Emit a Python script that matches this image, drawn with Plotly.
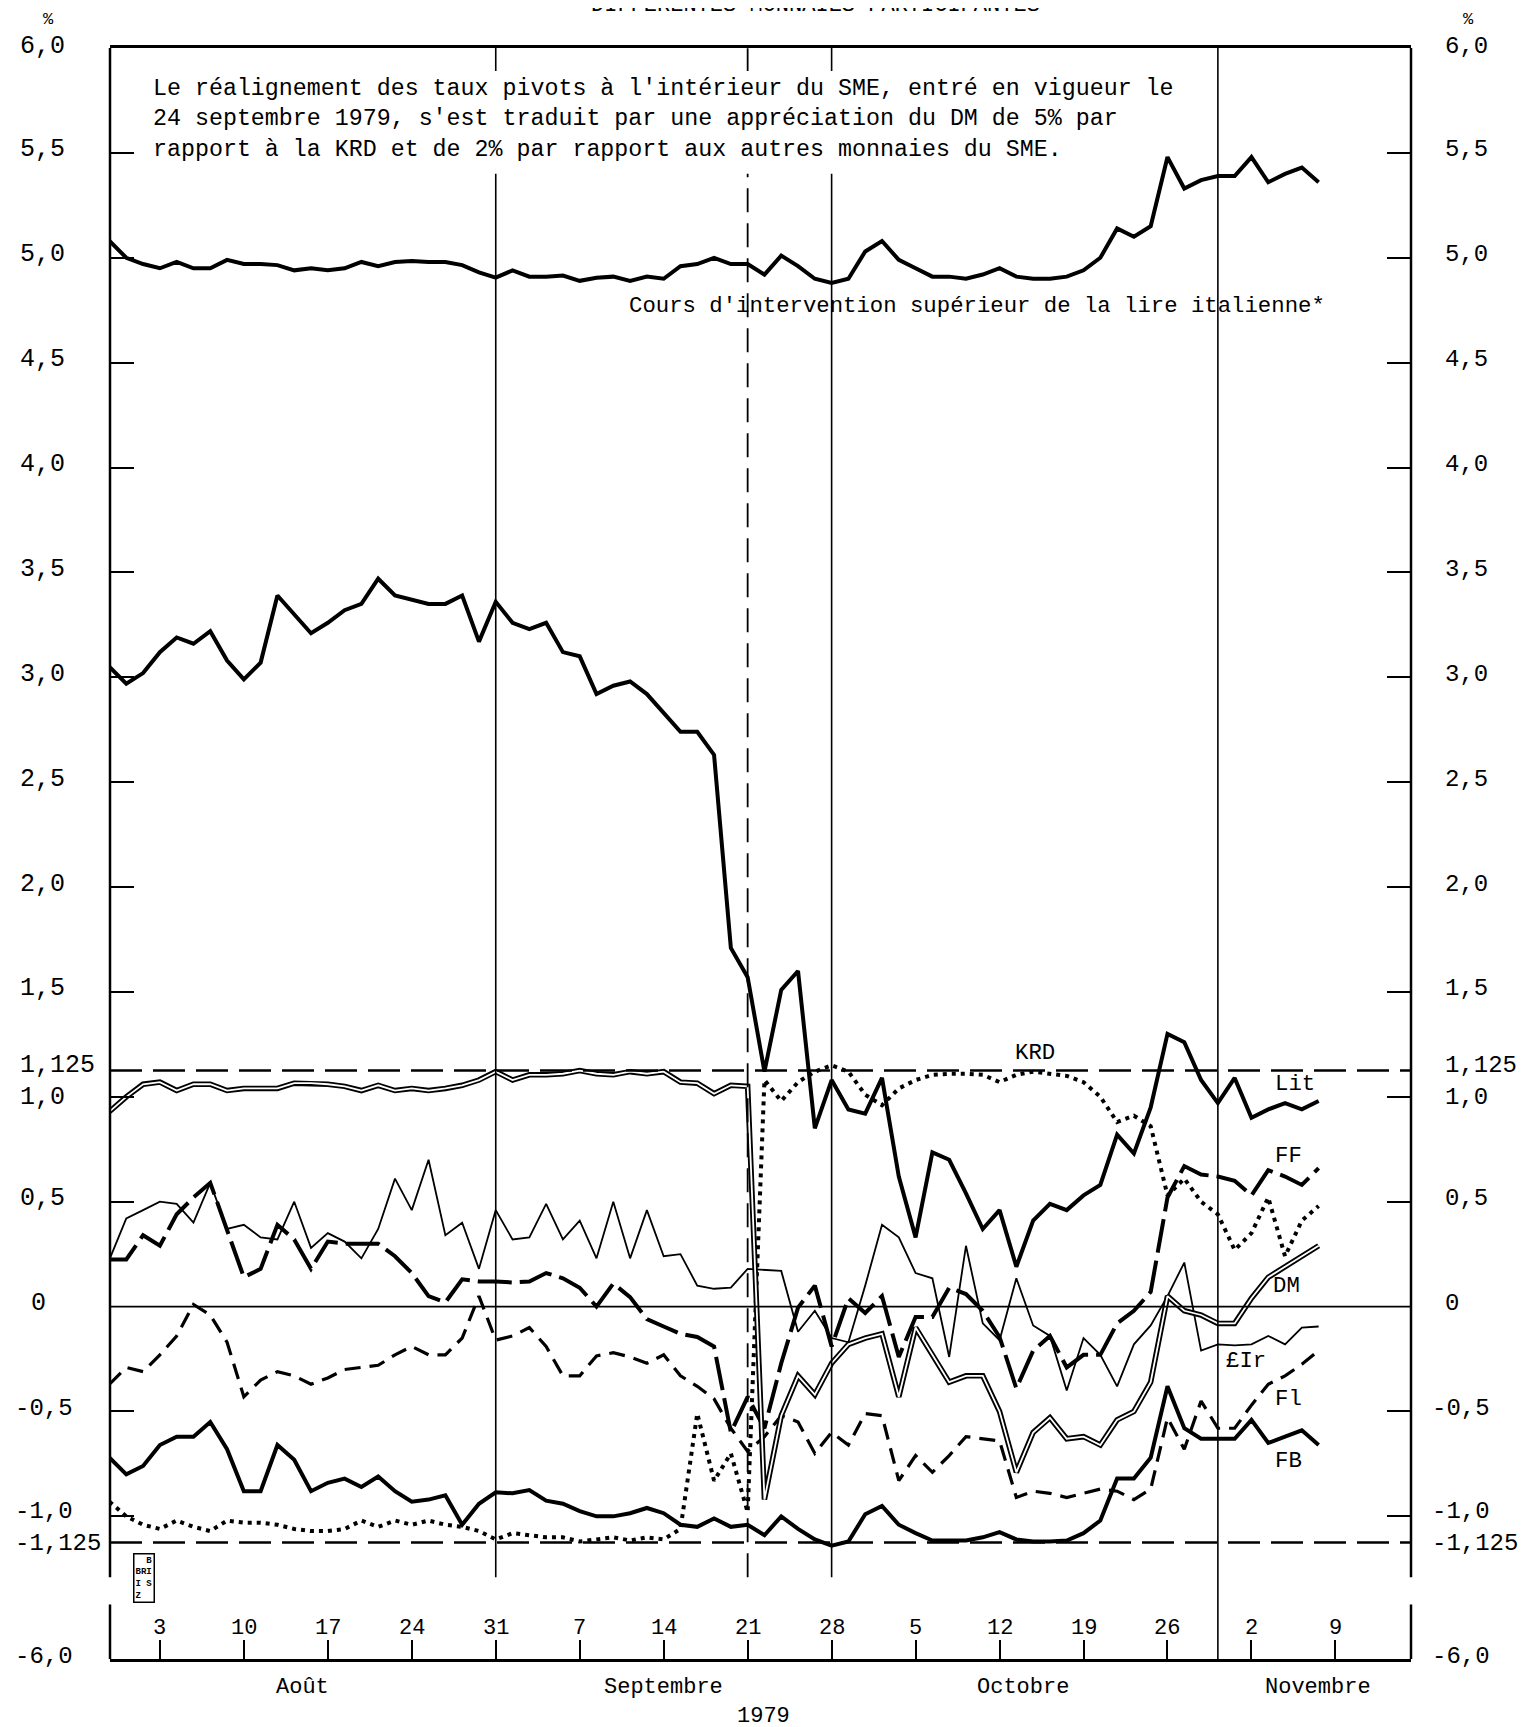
import pandas as pd
import plotly.graph_objects as go

# ---------------- data ----------------
dates = pd.bdate_range("1979-07-31", "1979-11-08")          # business days plotted
tick_days = pd.bdate_range("1979-07-31", "1979-11-09")
pos = {d: i for i, d in enumerate(tick_days)}
x = [pos[d] for d in dates]

cours = [5.08, 5.00, 4.97, 4.95, 4.98, 4.95, 4.95, 4.99, 4.97, 4.97,
         4.965, 4.94, 4.95, 4.94, 4.95, 4.98, 4.96, 4.98, 4.985, 4.98,
         4.98, 4.965, 4.93, 4.905, 4.94, 4.91, 4.91, 4.915, 4.89, 4.905,
         4.91, 4.89, 4.91, 4.90, 4.96, 4.97, 5.00, 4.97, 4.97, 4.92,
         5.01, 4.96, 4.90, 4.88, 4.90, 5.03, 5.08, 4.99, 4.95, 4.91,
         4.91, 4.90, 4.92, 4.95, 4.91, 4.90, 4.90, 4.91, 4.94, 5.00,
         5.14, 5.10, 5.15, 5.48, 5.33, 5.37, 5.39, 5.39, 5.48, 5.36,
         5.40, 5.43, 5.36]

lit = [3.05, 2.97, 3.02, 3.12, 3.19, 3.16, 3.22, 3.08, 2.99, 3.07,
       3.39, 3.30, 3.21, 3.26, 3.32, 3.35, 3.47, 3.39, 3.37, 3.35,
       3.35, 3.39, 3.17, 3.36, 3.26, 3.23, 3.26, 3.12, 3.10, 2.92,
       2.96, 2.98, 2.92, 2.83, 2.74, 2.74, 2.63, 1.71, 1.57, 1.12,
       1.51, 1.60, 0.85, 1.08, 0.94, 0.92, 1.09, 0.62, 0.33, 0.735,
       0.70, 0.54, 0.37, 0.46, 0.19, 0.41, 0.49, 0.46, 0.53, 0.58,
       0.82, 0.73, 0.95, 1.30, 1.26, 1.08, 0.97, 1.09, 0.90, 0.94,
       0.97, 0.94, 0.98]

ff = [0.225, 0.225, 0.34, 0.29, 0.44, 0.52, 0.59, 0.36, 0.14, 0.18,
      0.39, 0.32, 0.18, 0.31, 0.30, 0.30, 0.30, 0.24, 0.16, 0.05,
      0.02, 0.13, 0.12, 0.12, 0.115, 0.12, 0.16, 0.135, 0.09, 0.0,
      0.11, 0.045, -0.06, -0.095, -0.13, -0.145, -0.19, -0.60, -0.43, -0.58,
      -0.27, -0.005, 0.10, -0.19, 0.04, -0.03, 0.05, -0.24, -0.05, -0.05,
      0.09, 0.06, -0.02, -0.145, -0.39, -0.21, -0.14, -0.29, -0.23, -0.23,
      -0.08, -0.02, 0.07, 0.52, 0.67, 0.63, 0.62, 0.60, 0.53, 0.65,
      0.62, 0.58, 0.66]

eir = [0.225, 0.42, 0.46, 0.50, 0.49, 0.40, 0.59, 0.37, 0.39, 0.33,
       0.32, 0.50, 0.28, 0.35, 0.31, 0.23, 0.37, 0.61, 0.46, 0.70,
       0.34, 0.40, 0.18, 0.46, 0.32, 0.33, 0.49, 0.32, 0.41, 0.23,
       0.50, 0.23, 0.46, 0.24, 0.25, 0.10, 0.085, 0.09, 0.18, 0.176,
       0.17, -0.12, -0.02, -0.15, -0.17, 0.10, 0.39, 0.33, 0.16, 0.135,
       -0.24, 0.29, -0.08, -0.16, 0.135, -0.09, -0.14, -0.40, -0.15, -0.23,
       -0.38, -0.18, -0.09, 0.05, 0.21, -0.21, -0.18, -0.185, -0.18, -0.14,
       -0.18, -0.10, -0.095]

dm = [0.93, 1.00, 1.06, 1.07, 1.03, 1.06, 1.06, 1.03, 1.04, 1.04,
      1.04, 1.065, 1.065, 1.06, 1.05, 1.03, 1.055, 1.03, 1.04, 1.03,
      1.04, 1.055, 1.08, 1.12, 1.08, 1.105, 1.105, 1.11, 1.125, 1.11,
      1.105, 1.12, 1.11, 1.12, 1.07, 1.065, 1.015, 1.055, 1.05, -0.92,
      -0.52, -0.33, -0.42, -0.27, -0.18, -0.15, -0.13, -0.43, -0.10, -0.23,
      -0.36, -0.33, -0.33, -0.50, -0.79, -0.60, -0.53, -0.63, -0.62, -0.66,
      -0.54, -0.50, -0.36, 0.05, -0.02, -0.04, -0.08, -0.08, 0.04, 0.14,
      0.19, 0.24, 0.29]

fl = [-0.37, -0.29, -0.31, -0.23, -0.14, 0.01, -0.04, -0.17, -0.43, -0.35,
      -0.31, -0.33, -0.37, -0.34, -0.30, -0.29, -0.28, -0.23, -0.19, -0.23,
      -0.23, -0.15, 0.05, -0.16, -0.14, -0.10, -0.19, -0.33, -0.33, -0.235,
      -0.22, -0.24, -0.27, -0.23, -0.33, -0.38, -0.44, -0.58, -0.69, -0.62,
      -0.52, -0.55, -0.70, -0.60, -0.66, -0.51, -0.52, -0.83, -0.71, -0.79,
      -0.71, -0.62, -0.63, -0.64, -0.91, -0.88, -0.89, -0.91, -0.89, -0.87,
      -0.88, -0.92, -0.87, -0.53, -0.68, -0.45, -0.58, -0.58, -0.47, -0.37,
      -0.33, -0.275, -0.21]

krd = [-0.93, -1.00, -1.04, -1.06, -1.02, -1.05, -1.07, -1.02, -1.03, -1.03,
       -1.04, -1.06, -1.07, -1.07, -1.06, -1.02, -1.05, -1.02, -1.04, -1.02,
       -1.04, -1.05, -1.07, -1.11, -1.08, -1.09, -1.10, -1.10, -1.12, -1.11,
       -1.10, -1.115, -1.10, -1.11, -1.06, -0.51, -0.83, -0.70, -0.98, 1.08,
       0.98, 1.07, 1.12, 1.15, 1.12, 1.01, 0.96, 1.04, 1.08, 1.105,
       1.11, 1.11, 1.105, 1.07, 1.105, 1.12, 1.11, 1.10, 1.07, 1.00,
       0.88, 0.91, 0.86, 0.53, 0.61, 0.50, 0.44, 0.27, 0.35, 0.52,
       0.24, 0.41, 0.48]

fb = [-0.72, -0.80, -0.76, -0.66, -0.62, -0.62, -0.55, -0.68, -0.88, -0.88,
      -0.66, -0.73, -0.88, -0.84, -0.82, -0.86, -0.81, -0.88, -0.93, -0.92,
      -0.90, -1.04, -0.94, -0.885, -0.89, -0.875, -0.925, -0.94, -0.975, -1.00,
      -1.00, -0.985, -0.96, -0.985, -1.04, -1.05, -1.01, -1.05, -1.04, -1.09,
      -1.00, -1.06, -1.11, -1.14, -1.12, -0.99, -0.95, -1.04, -1.08, -1.115,
      -1.115, -1.115, -1.10, -1.075, -1.11, -1.12, -1.12, -1.115, -1.08, -1.02,
      -0.82, -0.82, -0.72, -0.38, -0.58, -0.63, -0.63, -0.63, -0.54, -0.65,
      -0.62, -0.59, -0.66]

y_tick_vals = [6.0, 5.5, 5.0, 4.5, 4.0, 3.5, 3.0, 2.5, 2.0, 1.5, 1.125, 1.0,
               0.5, 0.0, -0.5, -1.0, -1.125, -1.68]
y_tick_text = ["6,0", "5,5", "5,0", "4,5", "4,0", "3,5", "3,0", "2,5", "2,0",
               "1,5", "1,125", "1,0", "0,5", "0", "-0,5", "-1,0", "-1,125", "-6,0"]
months = [("Août", 11.47), ("Septembre", 32.97), ("Octobre", 54.37), ("Novembre", 71.97)]
note = ("Le réalignement des taux pivots à l'intérieur du SME, entré en vigueur le<br>"
        "24 septembre 1979, s'est traduit par une appréciation du DM de 5% par<br>"
        "rapport à la KRD et de 2% par rapport aux autres monnaies du SME.")

FONT = "Liberation Mono, Courier New, monospace"
BLACK = "#000000"

fig = go.Figure()


def line(y, width, dash="solid", color=BLACK):
    fig.add_trace(go.Scatter(x=x, y=y, mode="lines", hoverinfo="skip",
                             showlegend=False,
                             line=dict(color=color, width=width, dash=dash)))


line(krd, 4, "4px,5px")
line(fl, 3.2, "16px,9px")
line(ff, 4, "34px,8px")
line(eir, 1.8)
line(fb, 4)
line(lit, 4)
line(cours, 4)
line(dm, 5.5)
line(dm, 1.8, color="white")
# dummy trace so that the right-hand axis is drawn
fig.add_trace(go.Scatter(x=[x[0]], y=[0], yaxis="y2", mode="markers",
                         marker=dict(opacity=0), hoverinfo="skip", showlegend=False))

shapes = []
for v in (1.125, -1.125):
    shapes.append(dict(type="line", xref="paper", x0=0, x1=1, yref="y", y0=v, y1=v,
                       line=dict(color=BLACK, width=2.5, dash="32px,11px")))
shapes.append(dict(type="line", xref="paper", x0=0, x1=1, yref="y", y0=0, y1=0,
                   line=dict(color=BLACK, width=1.8)))
for d in ("1979-08-31", "1979-09-28"):
    p = pos[pd.Timestamp(d)]
    shapes.append(dict(type="line", x0=p, x1=p, y0=-1.29, y1=6.0,
                       line=dict(color=BLACK, width=1.6)))
p = pos[pd.Timestamp("1979-10-31")]
shapes.append(dict(type="line", x0=p, x1=p, y0=-1.68, y1=6.0,
                   line=dict(color=BLACK, width=1.6)))
p = pos[pd.Timestamp("1979-09-21")]
shapes.append(dict(type="line", x0=p, x1=p, y0=-1.29, y1=6.0,
                   line=dict(color=BLACK, width=1.8, dash="24px,11px")))
for xp in (0, 1):
    for a, b in ((-1.29, 6.0), (-1.68, -1.42)):
        shapes.append(dict(type="line", xref="paper", x0=xp, x1=xp, y0=a, y1=b,
                           line=dict(color=BLACK, width=2.5)))
shapes.append(dict(type="rect", x0=1.9, x1=53, y0=5.40, y1=5.89,
                   fillcolor="white", line=dict(width=0), layer="above"))

ann = []
extra_shift = {"1,125": 5, "1,0": -1, "6,0": 2, "-1,0": 5, "-1,125": -1}
for v, t in zip(y_tick_vals, y_tick_text):
    neg = t.startswith("-")
    lshift = -97 if neg else (-81 if t == "0" else -92)
    ys = extra_shift.get(t, 3)
    ann.append(dict(xref="paper", x=0, y=v, yref="y", text=t, showarrow=False,
                    xanchor="left", yanchor="middle", yshift=ys, xshift=lshift,
                    font=dict(family=FONT, size=24 if neg else 25, color=BLACK)))
    ann.append(dict(xref="paper", x=1, y=v, yref="y", text=t, showarrow=False,
                    xanchor="left", yanchor="middle", yshift=ys,
                    xshift=19 if neg else 32,
                    font=dict(family=FONT, size=24, color=BLACK)))
for xp, xs in ((0, -69), (1, 65)):
    ann.append(dict(xref="paper", x=xp, yref="paper", y=1.0174, yanchor="middle",
                    text="%", showarrow=False, xshift=xs,
                    font=dict(family=FONT, size=17, color=BLACK)))
fridays = [d for d in tick_days if d.weekday() == 4]
for d in fridays:
    ann.append(dict(x=pos[d], y=-1.535, text=str(d.day), showarrow=False,
                    yanchor="middle",
                    font=dict(family=FONT, size=22, color=BLACK)))
for name, xp in months:
    ann.append(dict(x=xp, yref="paper", y=-0.0177, yanchor="middle", text=name,
                    showarrow=False, font=dict(family=FONT, size=22, color=BLACK)))
ann.append(dict(x=38.96, yref="paper", y=-0.036, yanchor="middle", text="1979",
                showarrow=False, font=dict(family=FONT, size=22, color=BLACK)))
ann.append(dict(xref="paper", x=0.542, yref="paper", y=1.0268, yanchor="middle",
                text="DIFFÉRENTES MONNAIES PARTICIPANTES", showarrow=False,
                font=dict(family=FONT, size=22, color=BLACK)))
ann.append(dict(x=2.47, y=5.66, xanchor="left", yanchor="middle", align="left",
                text=note, showarrow=False,
                font=dict(family=FONT, size=23.3, color=BLACK)))
# small BRI/BIS emblem
ann.append(dict(xref="paper", x=0.026, yref="paper", y=0.05, xanchor="center",
                yanchor="middle", text="<b>  B<br>BRI<br>I S<br>Z  </b>",
                showarrow=False, bordercolor=BLACK, borderwidth=1.5, borderpad=1,
                font=dict(family=FONT, size=9, color=BLACK)))
labels = [("Cours d'intervention supérieur de la lire italienne*", 72.5, 4.77, "right"),
          ("KRD", 55.1, 1.21, "center"), ("Lit", 70.6, 1.06, "center"),
          ("FF", 70.2, 0.72, "center"), ("DM", 70.1, 0.10, "center"),
          ("£Ir", 67.7, -0.26, "center"), ("Fl", 70.2, -0.44, "center"),
          ("FB", 70.2, -0.735, "center")]
for t, xp, yp, anc in labels:
    ann.append(dict(x=xp, y=yp, text=t, showarrow=False, xanchor=anc,
                    yanchor="middle",
                    font=dict(family=FONT, size=22.3, color=BLACK)))

fridays_pos = [pos[d] for d in fridays]
ytv = [5.5, 5.0, 4.5, 4.0, 3.5, 3.0, 2.5, 2.0, 1.5, 1.0, 0.5, -0.5, -1.0]
fig.update_layout(
    width=1532, height=1727,
    margin=dict(l=102, r=129, t=40, b=76),
    paper_bgcolor="white", plot_bgcolor="white",
    showlegend=False,
    xaxis=dict(range=[0.03, 77.5], showgrid=False, zeroline=False,
               showline=True, linecolor=BLACK, linewidth=2.5, mirror=True,
               ticks="inside", ticklen=19, tickwidth=1.6, tickcolor=BLACK,
               tickvals=fridays_pos, showticklabels=False),
    yaxis=dict(range=[-1.68, 6.0], showgrid=False, zeroline=False, showline=False,
               ticks="inside", ticklen=24, tickwidth=2, tickcolor=BLACK,
               tickvals=ytv, showticklabels=False),
    yaxis2=dict(range=[-1.68, 6.0], overlaying="y", side="right", showgrid=False,
                zeroline=False, showline=False, ticks="inside", ticklen=24,
                tickwidth=2, tickcolor=BLACK, tickvals=ytv, showticklabels=False),
    shapes=shapes, annotations=ann,
)

fig.write_html("out.html")
